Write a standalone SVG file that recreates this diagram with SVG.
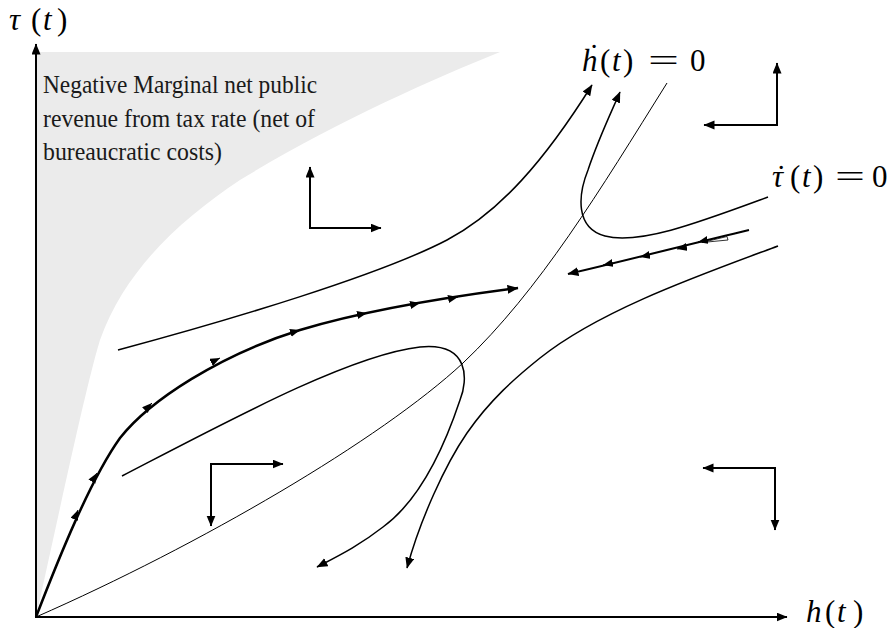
<svg xmlns="http://www.w3.org/2000/svg" width="889" height="628" viewBox="0 0 889 628">
<defs>
<style>
.ln{fill:none;stroke:#000;stroke-linecap:butt;stroke-linejoin:round}
.thin{stroke-width:1}
.med{stroke-width:1.5}
.thick{stroke-width:2.5}
.ax{stroke-width:2}
.txt{font-family:"Liberation Serif","Times New Roman",serif;fill:#1a1a1a;font-size:25px}
.m{font-family:"Liberation Serif","Times New Roman",serif;fill:#000;font-size:31px}
.it{font-style:italic}
</style>
<marker id="ah" markerUnits="userSpaceOnUse" markerWidth="12" markerHeight="10" refX="10.5" refY="4.5" orient="auto">
<path d="M0,0 L11,4.5 L0,9 Z" fill="#000"/>
</marker>
<marker id="ahs" markerUnits="userSpaceOnUse" markerWidth="12" markerHeight="10" refX="10" refY="4" orient="auto">
<path d="M0,0 L10,4 L0,8 Z" fill="#000"/>
</marker>
</defs>
<rect width="889" height="628" fill="#fff"/>

<g id="region-negative">
<path d="M36,617 L36,52 L500,52 C 430,80 330,125 240,180 C 180,220 125,270 100,340 C 85,390 62,500 36,617 Z" fill="#ebebeb"/>
<text class="txt" x="43" y="93" textLength="274" lengthAdjust="spacingAndGlyphs">Negative Marginal net public</text>
<text class="txt" x="43" y="127" textLength="272" lengthAdjust="spacingAndGlyphs">revenue from tax rate (net of</text>
<text class="txt" x="43" y="160" textLength="179" lengthAdjust="spacingAndGlyphs">bureaucratic costs)</text>
</g>

<g id="axes">
<path class="ln ax" d="M36,618 L36,44" marker-end="url(#ah)"/>
<path class="ln ax" d="M35,617 L787,617" marker-end="url(#ah)"/>
<text class="m"><tspan class="it" x="9" y="30">τ</tspan><tspan x="31" y="30">(</tspan><tspan class="it" x="43" y="30">t</tspan><tspan x="57" y="30">)</tspan></text>
<text class="m"><tspan class="it" x="806" y="622">h</tspan><tspan x="825" y="622">(</tspan><tspan class="it" x="837" y="622">t</tspan><tspan x="853" y="622">)</tspan></text>
</g>

<g id="label-hdot">
<text class="m"><tspan class="it" x="582" y="71">ḣ</tspan><tspan x="600" y="71">(</tspan><tspan class="it" x="612" y="71">t</tspan><tspan x="623" y="71">)</tspan><tspan x="690" y="71">0</tspan></text>
<text class="m" x="648" y="71" textLength="31" lengthAdjust="spacingAndGlyphs">=</text>
</g>
<g id="label-taudot">
<text class="m"><tspan class="it" x="772" y="187">τ</tspan><tspan x="776" y="187">˙</tspan><tspan x="790" y="187">(</tspan><tspan class="it" x="802" y="187">t</tspan><tspan x="813" y="187">)</tspan><tspan x="872" y="187">0</tspan></text>
<text class="m" x="835" y="187" textLength="30" lengthAdjust="spacingAndGlyphs">=</text>
</g>

<g id="connectors">
<!-- h-dot = 0 isocline -->
<path class="ln thin" d="M36,617 C 200,545 380,440 463,363 C 540,290 600,190 667,83"/>
<!-- upper divergent trajectory -->
<path class="ln med" d="M118,350 C 230,320 380,275 447,240 C 500,212 545,160 592,85" marker-end="url(#ah)"/>
<!-- trajectory near tau-dot label -->
<path class="ln med" d="M768,197 C 700,222 640,245 605,236 C 575,228 578,195 588,170 C 598,140 610,115 620,92" marker-end="url(#ah)"/>
<!-- lower right trajectory -->
<path class="ln med" d="M778,246 C 700,275 600,310 540,358 C 515,378 490,400 467,433 C 445,465 420,520 407,568" marker-end="url(#ah)"/>
<!-- loop trajectory -->
<path class="ln med" d="M122,476 C 230,420 350,355 420,347 C 470,342 468,380 460,400 C 445,445 420,500 383,527 C 360,545 340,555 317,567" marker-end="url(#ah)"/>
<!-- saddle path (left arm) -->
<path class="ln thick" d="M36,617 C 58,560 90,480 120,438 C 150,400 220,355 300,330 C 360,312 440,298 518,288" marker-end="url(#ah)"/>
<path class="ln thin" d="M76,515 L78,510" marker-end="url(#ahs)"/>
<path class="ln thin" d="M94,478 L97,473" marker-end="url(#ahs)"/>
<path class="ln thin" d="M148,407 L152,403" marker-end="url(#ahs)"/>
<path class="ln thin" d="M215,360.5 L220,358" marker-end="url(#ahs)"/>
<path class="ln thin" d="M295,331.5 L300,330" marker-end="url(#ahs)"/>
<path class="ln thin" d="M362,314 L367,313" marker-end="url(#ahs)"/>
<path class="ln thin" d="M415,304 L420,303" marker-end="url(#ahs)"/>
<path class="ln thin" d="M453,298 L458,297" marker-end="url(#ahs)"/>
<!-- saddle path (right arm) -->
<path class="ln ax" d="M749,230 C 690,244 620,262 568,274" marker-end="url(#ah)"/>
<path d="M702,242.5 L727,236.5 L728,240 Z" fill="#fff" stroke="#000" stroke-width="0.8"/>
<path class="ln thin" d="M703,241 L698,242" marker-end="url(#ahs)"/>
<path class="ln thin" d="M682,248 L677,249" marker-end="url(#ahs)"/>
<path class="ln thin" d="M645,256 L640,257" marker-end="url(#ahs)"/>
<path class="ln thin" d="M608,264 L603,265" marker-end="url(#ahs)"/>
</g>

<g id="dir-top-left">
<path class="ln ax" d="M310,228 L310,167" marker-end="url(#ah)"/>
<path class="ln ax" d="M309,228 L381,228" marker-end="url(#ah)"/>
</g>
<g id="dir-top-right">
<path class="ln ax" d="M777,126 L777,63" marker-end="url(#ah)"/>
<path class="ln ax" d="M778,125 L704,125" marker-end="url(#ah)"/>
</g>
<g id="dir-bottom-left">
<path class="ln ax" d="M210,464 L283,464" marker-end="url(#ah)"/>
<path class="ln ax" d="M211,463 L211,526" marker-end="url(#ah)"/>
</g>
<g id="dir-bottom-right">
<path class="ln ax" d="M776,468 L703,468" marker-end="url(#ah)"/>
<path class="ln ax" d="M775,467 L775,530" marker-end="url(#ah)"/>
</g>
</svg>
